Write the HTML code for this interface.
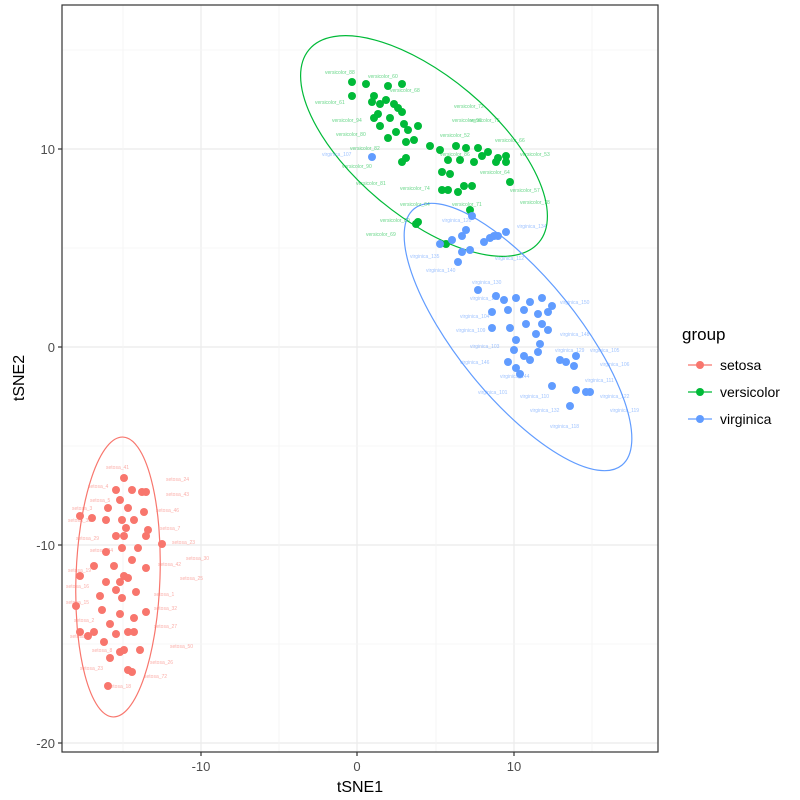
<!DOCTYPE html>
<html><head><meta charset="utf-8"><style>body{margin:0;background:#fff}svg{display:block;font-family:"Liberation Sans",sans-serif}svg circle{r:4px}</style></head><body>
<svg width="800" height="800" viewBox="0 0 800 800">
<rect x="0" y="0" width="800" height="800" fill="#fff"/>
<g stroke="#ebebeb" stroke-width="1.2">
<line x1="201" y1="5" x2="201" y2="752"/><line x1="357" y1="5" x2="357" y2="752"/><line x1="514" y1="5" x2="514" y2="752"/>
<line x1="62" y1="149" x2="658" y2="149"/><line x1="62" y1="347" x2="658" y2="347"/><line x1="62" y1="545" x2="658" y2="545"/><line x1="62" y1="743" x2="658" y2="743"/>
</g>
<g stroke="#f4f4f4" stroke-width="0.8">
<line x1="123" y1="5" x2="123" y2="752"/><line x1="279" y1="5" x2="279" y2="752"/><line x1="436" y1="5" x2="436" y2="752"/><line x1="592" y1="5" x2="592" y2="752"/>
<line x1="62" y1="50" x2="658" y2="50"/><line x1="62" y1="248" x2="658" y2="248"/><line x1="62" y1="446" x2="658" y2="446"/><line x1="62" y1="644" x2="658" y2="644"/>
</g>
<rect x="62" y="5" width="596" height="747" fill="none" stroke="#333" stroke-width="1.2"/>
<g stroke="#333" stroke-width="1.2">
<line x1="201" y1="752" x2="201" y2="756"/><line x1="357" y1="752" x2="357" y2="756"/><line x1="514" y1="752" x2="514" y2="756"/>
<line x1="58" y1="149" x2="62" y2="149"/><line x1="58" y1="347" x2="62" y2="347"/><line x1="58" y1="545" x2="62" y2="545"/><line x1="58" y1="743" x2="62" y2="743"/>
</g>
<g font-size="13" fill="#4d4d4d">
<text x="201" y="771" text-anchor="middle">-10</text><text x="357" y="771" text-anchor="middle">0</text><text x="514" y="771" text-anchor="middle">10</text>
<text x="55" y="154" text-anchor="end">10</text><text x="55" y="352" text-anchor="end">0</text><text x="55" y="550" text-anchor="end">-10</text><text x="55" y="748" text-anchor="end">-20</text>
</g>
<text x="360" y="792" font-size="16" text-anchor="middle" fill="#000">tSNE1</text>
<text x="24" y="378" font-size="16" text-anchor="middle" fill="#000" transform="rotate(-90 24 378)">tSNE2</text>

<ellipse cx="424" cy="146" rx="150" ry="70" transform="rotate(40 424 146)" fill="none" stroke="#00ba38" stroke-width="1.2"/>
<ellipse cx="518" cy="337" rx="165" ry="60" transform="rotate(51 518 337)" fill="none" stroke="#619cff" stroke-width="1.2"/>
<ellipse cx="118" cy="577" rx="42" ry="140" transform="rotate(2 118 577)" fill="none" stroke="#f8766d" stroke-width="1.2"/>

<g font-size="5" fill="#00ba38" opacity="0.6">
<text x="325" y="74">versicolor_88</text><text x="368" y="78">versicolor_60</text><text x="390" y="92">versicolor_68</text><text x="315" y="104">versicolor_61</text><text x="454" y="108">versicolor_72</text><text x="332" y="122">versicolor_94</text><text x="452" y="122">versicolor_96</text><text x="470" y="122">versicolor_75</text><text x="336" y="136">versicolor_80</text><text x="440" y="137">versicolor_52</text><text x="495" y="142">versicolor_66</text><text x="350" y="150">versicolor_82</text><text x="440" y="156">versicolor_86</text><text x="520" y="156">versicolor_53</text><text x="342" y="168">versicolor_90</text><text x="480" y="174">versicolor_64</text><text x="356" y="185">versicolor_81</text><text x="400" y="190">versicolor_74</text><text x="510" y="192">versicolor_57</text><text x="400" y="206">versicolor_64</text><text x="452" y="206">versicolor_71</text><text x="520" y="204">versicolor_78</text><text x="380" y="222">versicolor_89</text><text x="366" y="236">versicolor_69</text>
</g>
<g font-size="5" fill="#619cff" opacity="0.6">
<text x="322" y="156">virginica_107</text><text x="442" y="222">virginica_120</text><text x="517" y="228">virginica_134</text><text x="410" y="258">virginica_135</text><text x="426" y="272">virginica_140</text><text x="495" y="260">virginica_112</text><text x="472" y="284">virginica_130</text><text x="470" y="300">virginica_142</text><text x="560" y="304">virginica_150</text><text x="460" y="318">virginica_104</text><text x="456" y="332">virginica_109</text><text x="560" y="336">virginica_148</text><text x="470" y="348">virginica_103</text><text x="555" y="352">virginica_129</text><text x="590" y="352">virginica_105</text><text x="460" y="364">virginica_146</text><text x="600" y="366">virginica_106</text><text x="500" y="378">virginica_144</text><text x="585" y="382">virginica_111</text><text x="478" y="394">virginica_101</text><text x="520" y="398">virginica_110</text><text x="600" y="398">virginica_122</text><text x="530" y="412">virginica_132</text><text x="610" y="412">virginica_119</text><text x="550" y="428">virginica_118</text>
</g>
<g font-size="5" fill="#f8766d" opacity="0.6">
<text x="106" y="469">setosa_41</text><text x="166" y="481">setosa_24</text><text x="88" y="488">setosa_4</text><text x="166" y="496">setosa_43</text><text x="90" y="502">setosa_5</text><text x="72" y="510">setosa_3</text><text x="156" y="512">setosa_46</text><text x="68" y="522">setosa_33</text><text x="160" y="530">setosa_7</text><text x="76" y="540">setosa_29</text><text x="172" y="544">setosa_23</text><text x="90" y="552">setosa_34</text><text x="186" y="560">setosa_30</text><text x="68" y="572">setosa_19</text><text x="158" y="566">setosa_42</text><text x="180" y="580">setosa_25</text><text x="66" y="588">setosa_16</text><text x="154" y="596">setosa_1</text><text x="66" y="604">setosa_15</text><text x="154" y="610">setosa_32</text><text x="74" y="622">setosa_2</text><text x="154" y="628">setosa_27</text><text x="70" y="638">setosa_6</text><text x="170" y="648">setosa_50</text><text x="92" y="652">setosa_8</text><text x="150" y="664">setosa_26</text><text x="80" y="670">setosa_23</text><text x="144" y="678">setosa_72</text><text x="108" y="688">setosa_18</text>
</g>

<g fill="#00ba38">
<circle cx="352" cy="82" r="4"/><circle cx="352" cy="96" r="4"/><circle cx="366" cy="84" r="4"/><circle cx="374" cy="96" r="4"/><circle cx="388" cy="86" r="4"/><circle cx="402" cy="84" r="4"/><circle cx="372" cy="102" r="4"/><circle cx="380" cy="104" r="4"/><circle cx="386" cy="100" r="4"/><circle cx="394" cy="104" r="4"/><circle cx="398" cy="108" r="4"/><circle cx="402" cy="112" r="4"/><circle cx="378" cy="114" r="4"/><circle cx="374" cy="118" r="4"/><circle cx="390" cy="118" r="4"/><circle cx="380" cy="126" r="4"/><circle cx="404" cy="124" r="4"/><circle cx="396" cy="132" r="4"/><circle cx="388" cy="138" r="4"/><circle cx="408" cy="130" r="4"/><circle cx="418" cy="126" r="4"/><circle cx="414" cy="140" r="4"/><circle cx="406" cy="142" r="4"/><circle cx="430" cy="146" r="4"/><circle cx="440" cy="150" r="4"/><circle cx="456" cy="146" r="4"/><circle cx="466" cy="148" r="4"/><circle cx="478" cy="148" r="4"/><circle cx="488" cy="152" r="4"/><circle cx="448" cy="160" r="4"/><circle cx="460" cy="160" r="4"/><circle cx="474" cy="162" r="4"/><circle cx="482" cy="156" r="4"/><circle cx="496" cy="162" r="4"/><circle cx="506" cy="156" r="4"/><circle cx="506" cy="162" r="4"/><circle cx="498" cy="158" r="4"/><circle cx="402" cy="162" r="4"/><circle cx="406" cy="158" r="4"/><circle cx="442" cy="172" r="4"/><circle cx="450" cy="174" r="4"/><circle cx="464" cy="186" r="4"/><circle cx="442" cy="190" r="4"/><circle cx="448" cy="190" r="4"/><circle cx="458" cy="192" r="4"/><circle cx="472" cy="186" r="4"/><circle cx="510" cy="182" r="4"/><circle cx="470" cy="210" r="4"/><circle cx="418" cy="222" r="4"/><circle cx="416" cy="224" r="4"/><circle cx="446" cy="244" r="4"/>
</g>
<g fill="#619cff">
<circle cx="372" cy="157" r="4"/><circle cx="440" cy="244" r="4"/><circle cx="452" cy="240" r="4"/><circle cx="462" cy="236" r="4"/><circle cx="466" cy="230" r="4"/><circle cx="472" cy="216" r="4"/><circle cx="462" cy="252" r="4"/><circle cx="470" cy="250" r="4"/><circle cx="458" cy="262" r="4"/><circle cx="484" cy="242" r="4"/><circle cx="490" cy="238" r="4"/><circle cx="494" cy="236" r="4"/><circle cx="498" cy="236" r="4"/><circle cx="506" cy="232" r="4"/><circle cx="478" cy="290" r="4"/><circle cx="496" cy="296" r="4"/><circle cx="504" cy="300" r="4"/><circle cx="516" cy="298" r="4"/><circle cx="530" cy="302" r="4"/><circle cx="542" cy="298" r="4"/><circle cx="548" cy="312" r="4"/><circle cx="492" cy="312" r="4"/><circle cx="508" cy="310" r="4"/><circle cx="524" cy="310" r="4"/><circle cx="538" cy="314" r="4"/><circle cx="552" cy="306" r="4"/><circle cx="510" cy="328" r="4"/><circle cx="526" cy="324" r="4"/><circle cx="542" cy="324" r="4"/><circle cx="492" cy="328" r="4"/><circle cx="516" cy="340" r="4"/><circle cx="536" cy="334" r="4"/><circle cx="548" cy="330" r="4"/><circle cx="540" cy="344" r="4"/><circle cx="524" cy="356" r="4"/><circle cx="514" cy="350" r="4"/><circle cx="530" cy="360" r="4"/><circle cx="538" cy="352" r="4"/><circle cx="508" cy="362" r="4"/><circle cx="516" cy="368" r="4"/><circle cx="520" cy="374" r="4"/><circle cx="560" cy="360" r="4"/><circle cx="566" cy="362" r="4"/><circle cx="574" cy="366" r="4"/><circle cx="576" cy="356" r="4"/><circle cx="552" cy="386" r="4"/><circle cx="576" cy="390" r="4"/><circle cx="586" cy="392" r="4"/><circle cx="590" cy="392" r="4"/><circle cx="570" cy="406" r="4"/>
</g>
<g fill="#f8766d">
<circle cx="124" cy="478" r="4"/><circle cx="116" cy="490" r="4"/><circle cx="132" cy="490" r="4"/><circle cx="142" cy="492" r="4"/><circle cx="146" cy="492" r="4"/><circle cx="120" cy="500" r="4"/><circle cx="108" cy="508" r="4"/><circle cx="128" cy="508" r="4"/><circle cx="144" cy="512" r="4"/><circle cx="80" cy="516" r="4"/><circle cx="92" cy="518" r="4"/><circle cx="106" cy="520" r="4"/><circle cx="122" cy="520" r="4"/><circle cx="134" cy="520" r="4"/><circle cx="148" cy="530" r="4"/><circle cx="126" cy="528" r="4"/><circle cx="116" cy="536" r="4"/><circle cx="124" cy="536" r="4"/><circle cx="146" cy="536" r="4"/><circle cx="162" cy="544" r="4"/><circle cx="106" cy="552" r="4"/><circle cx="122" cy="548" r="4"/><circle cx="138" cy="548" r="4"/><circle cx="132" cy="560" r="4"/><circle cx="114" cy="566" r="4"/><circle cx="146" cy="568" r="4"/><circle cx="94" cy="566" r="4"/><circle cx="80" cy="576" r="4"/><circle cx="124" cy="576" r="4"/><circle cx="106" cy="582" r="4"/><circle cx="120" cy="582" r="4"/><circle cx="128" cy="578" r="4"/><circle cx="116" cy="590" r="4"/><circle cx="122" cy="598" r="4"/><circle cx="100" cy="596" r="4"/><circle cx="136" cy="592" r="4"/><circle cx="76" cy="606" r="4"/><circle cx="102" cy="610" r="4"/><circle cx="120" cy="614" r="4"/><circle cx="146" cy="612" r="4"/><circle cx="134" cy="618" r="4"/><circle cx="110" cy="624" r="4"/><circle cx="80" cy="632" r="4"/><circle cx="94" cy="632" r="4"/><circle cx="116" cy="634" r="4"/><circle cx="104" cy="642" r="4"/><circle cx="128" cy="632" r="4"/><circle cx="134" cy="632" r="4"/><circle cx="140" cy="650" r="4"/><circle cx="120" cy="652" r="4"/><circle cx="110" cy="658" r="4"/><circle cx="88" cy="636" r="4"/><circle cx="132" cy="672" r="4"/><circle cx="128" cy="670" r="4"/><circle cx="108" cy="686" r="4"/><circle cx="124" cy="650" r="4"/>
</g>

<text x="682" y="340" font-size="17" fill="#000">group</text>
<g stroke-width="1.2">
<line x1="688" y1="365" x2="712" y2="365" stroke="#f8766d"/><circle cx="700" cy="365" r="4" fill="#f8766d"/>
<line x1="688" y1="392" x2="712" y2="392" stroke="#00ba38"/><circle cx="700" cy="392" r="4" fill="#00ba38"/>
<line x1="688" y1="419" x2="712" y2="419" stroke="#619cff"/><circle cx="700" cy="419" r="4" fill="#619cff"/>
</g>
<g font-size="14" fill="#000">
<text x="720" y="370">setosa</text><text x="720" y="397">versicolor</text><text x="720" y="424">virginica</text>
</g>
</svg>
</body></html>
